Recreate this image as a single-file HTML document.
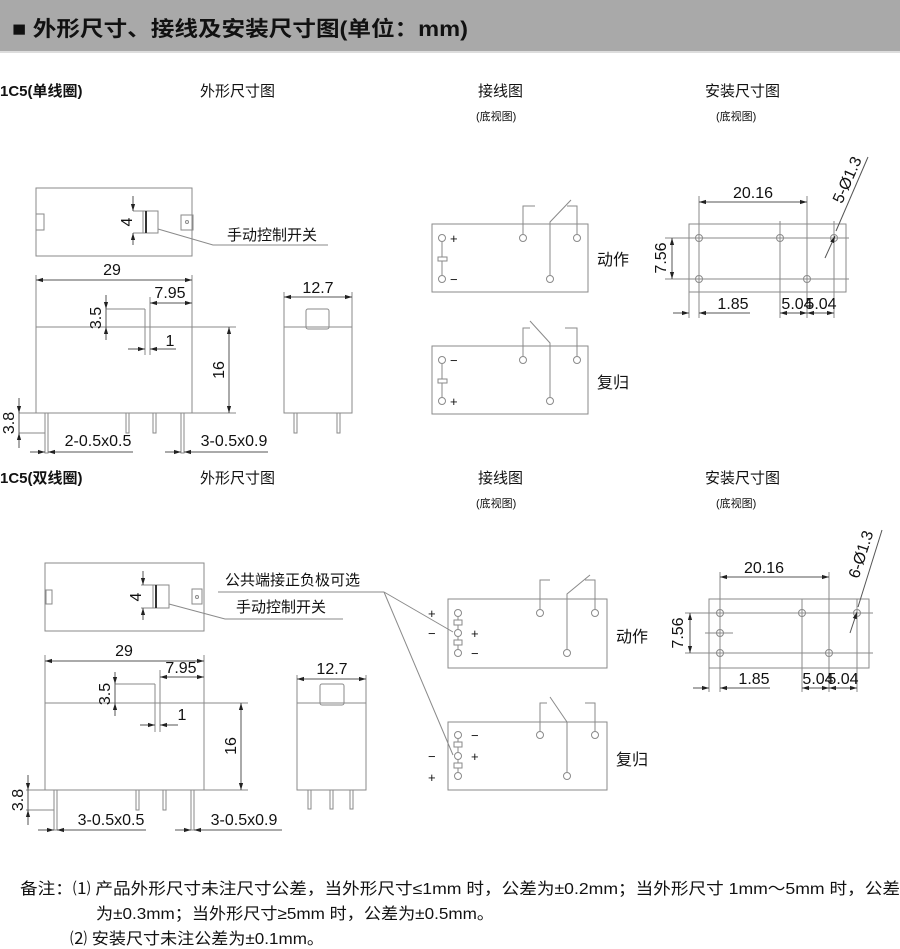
<!DOCTYPE html>
<html><head><meta charset="utf-8"><style>
html,body{margin:0;padding:0;background:#fff;width:900px;height:949px;overflow:hidden}
svg{display:block}
text{font-family:"Liberation Sans Narrow","Liberation Sans","Noto Sans CJK SC",sans-serif;fill:#111}
.c{font-family:"Liberation Sans","Noto Sans CJK SC",sans-serif}
.d{font-size:16px}
.l{stroke:#8a8a8a;stroke-width:1;fill:none}
.k{stroke:#555;stroke-width:1;fill:none}
</style></head><body>
<svg width="900" height="949" viewBox="0 0 900 949" xmlns="http://www.w3.org/2000/svg">
<defs>
<marker id="a" viewBox="0 0 10 10" refX="10" refY="5" markerWidth="7" markerHeight="7" orient="auto-start-reverse"><path d="M0,2 L10,5 L0,8z" fill="#222"/></marker>
</defs>
<rect x="0" y="0" width="900" height="51" fill="#a9a9a9"/>
<rect x="0" y="51" width="900" height="2" fill="#ddd"/>
<text x="12" y="36" class="c" style="font-size:21px;font-weight:bold" textLength="456" lengthAdjust="spacingAndGlyphs">■ 外形尺寸、接线及安装尺寸图(单位：mm)</text>

<!-- section titles -->
<g class="c" style="font-size:15px">
<text x="0" y="96" style="font-weight:bold">1C5(单线圈)</text>
<text x="200" y="96">外形尺寸图</text>
<text x="478" y="96">接线图</text>
<text x="476" y="120" style="font-size:11px">(底视图)</text>
<text x="705" y="96">安装尺寸图</text>
<text x="716" y="120" style="font-size:11px">(底视图)</text>
<text x="0" y="483" style="font-weight:bold">1C5(双线圈)</text>
<text x="200" y="483">外形尺寸图</text>
<text x="478" y="483">接线图</text>
<text x="476" y="507" style="font-size:11px">(底视图)</text>
<text x="705" y="483">安装尺寸图</text>
<text x="716" y="507" style="font-size:11px">(底视图)</text>
</g>

<!-- ===== Section 1 outline ===== -->
<g class="l">
<rect x="36" y="188" width="156" height="68"/>
<rect x="36" y="214" width="8" height="16"/>
<rect x="181" y="215" width="12" height="15"/>
<circle cx="187" cy="222" r="1.5"/>
<rect x="143" y="211" width="15" height="22"/>
<line x1="146" y1="211" x2="146" y2="233" stroke="#333" stroke-width="2"/>
<line x1="133" y1="211" x2="143" y2="211"/><line x1="133" y1="233" x2="143" y2="233"/>
<polyline points="158,229 213,245 328,245"/>
<rect x="36" y="327" width="156" height="86"/>
<line x1="36" y1="327" x2="236" y2="327"/>
<line x1="192" y1="413" x2="236" y2="413"/>
<line x1="36" y1="275" x2="36" y2="327"/><line x1="192" y1="275" x2="192" y2="327"/>
<line x1="150" y1="297" x2="150" y2="355"/><line x1="145" y1="309" x2="145" y2="355"/>
<line x1="106" y1="309" x2="145" y2="309"/>
<rect x="45" y="413" width="3" height="40"/>
<rect x="126" y="413" width="3" height="20"/><rect x="153" y="413" width="3" height="20"/><rect x="181" y="413" width="3" height="40"/>
<line x1="19" y1="413" x2="45" y2="413"/><line x1="19" y1="433" x2="45" y2="433"/>
<rect x="284" y="327" width="68" height="86"/>
<rect x="306" y="309" width="23" height="20" rx="2"/>
<line x1="284" y1="292" x2="284" y2="327"/><line x1="352" y1="292" x2="352" y2="327"/>
<rect x="294" y="413" width="3" height="20"/><rect x="337" y="413" width="3" height="20"/>
</g>
<g class="k">
<line x1="133" y1="196" x2="133" y2="211" marker-end="url(#a)"/><line x1="133" y1="245" x2="133" y2="233" marker-end="url(#a)"/>
<line x1="36" y1="280" x2="192" y2="280" marker-start="url(#a)" marker-end="url(#a)"/>
<line x1="150" y1="303" x2="192" y2="303" marker-start="url(#a)" marker-end="url(#a)"/>
<line x1="106" y1="295" x2="106" y2="309" marker-end="url(#a)"/><line x1="106" y1="340" x2="106" y2="327" marker-end="url(#a)"/><line x1="106" y1="309" x2="106" y2="327"/>
<line x1="128" y1="349" x2="145" y2="349" marker-end="url(#a)"/><line x1="176" y1="349" x2="150" y2="349" marker-end="url(#a)"/>
<line x1="229" y1="327" x2="229" y2="413" marker-start="url(#a)" marker-end="url(#a)"/>
<line x1="19" y1="398" x2="19" y2="413" marker-end="url(#a)"/><line x1="19" y1="448" x2="19" y2="433" marker-end="url(#a)"/><line x1="19" y1="413" x2="19" y2="433"/>
<line x1="30" y1="452" x2="45" y2="452" marker-end="url(#a)"/><line x1="133" y1="452" x2="48" y2="452" marker-end="url(#a)"/>
<line x1="165" y1="452" x2="181" y2="452" marker-end="url(#a)"/><line x1="268" y1="452" x2="184" y2="452" marker-end="url(#a)"/>
<line x1="284" y1="297" x2="352" y2="297" marker-start="url(#a)" marker-end="url(#a)"/>
</g>
<g class="d">
<text x="132" y="222" transform="rotate(-90 132 222)" text-anchor="middle">4</text>
<text x="112" y="275" text-anchor="middle">29</text>
<text x="170" y="298" text-anchor="middle">7.95</text>
<text x="101" y="318" transform="rotate(-90 101 318)" text-anchor="middle">3.5</text>
<text x="170" y="346" text-anchor="middle">1</text>
<text x="224" y="370" transform="rotate(-90 224 370)" text-anchor="middle">16</text>
<text x="14" y="423" transform="rotate(-90 14 423)" text-anchor="middle">3.8</text>
<text x="98" y="446" text-anchor="middle">2-0.5x0.5</text>
<text x="234" y="446" text-anchor="middle">3-0.5x0.9</text>
<text x="318" y="293" text-anchor="middle">12.7</text>
</g>
<text x="227" y="240" class="c" style="font-size:15px">手动控制开关</text>

<!-- wiring 1 -->
<g class="l">
<rect x="432" y="224" width="156" height="68"/>
<circle cx="442" cy="238" r="3.5"/><circle cx="442" cy="279" r="3.5"/>
<line x1="442" y1="242" x2="442" y2="257"/><rect x="438" y="257" width="9" height="4"/><line x1="442" y1="261" x2="442" y2="275"/>
<circle cx="523" cy="238" r="3.5"/><circle cx="577" cy="238" r="3.5"/><circle cx="550" cy="279" r="3.5"/>
<polyline points="523,234 523,206 535,206"/><polyline points="577,234 577,206 567,206"/>
<polyline points="550,275 550,222 571,200"/>
<rect x="432" y="346" width="156" height="68"/>
<circle cx="442" cy="360" r="3.5"/><circle cx="442" cy="401" r="3.5"/>
<line x1="442" y1="364" x2="442" y2="379"/><rect x="438" y="379" width="9" height="4"/><line x1="442" y1="383" x2="442" y2="397"/>
<circle cx="523" cy="360" r="3.5"/><circle cx="577" cy="360" r="3.5"/><circle cx="550" cy="401" r="3.5"/>
<polyline points="523,356 523,328 530,328"/><polyline points="577,356 577,328 565,328"/>
<polyline points="550,397 550,343 530,321"/>
</g>
<g class="c" style="font-size:13px">
<text x="450" y="243">+</text><text x="450" y="284">−</text>
<text x="450" y="365">−</text><text x="450" y="406">+</text>
</g>
<text x="597" y="265" class="c" style="font-size:16px">动作</text>
<text x="597" y="388" class="c" style="font-size:16px">复归</text>

<!-- mount 1 -->
<g class="l">
<rect x="689" y="224" width="157" height="68"/>
<line x1="685" y1="238" x2="849" y2="238"/><line x1="685" y1="279" x2="849" y2="279"/>
<line x1="699" y1="196" x2="699" y2="318"/><line x1="807" y1="196" x2="807" y2="318"/>
<line x1="780" y1="221" x2="780" y2="318"/><line x1="834" y1="221" x2="834" y2="318"/>
<line x1="689" y1="292" x2="689" y2="318"/>
<line x1="665" y1="238" x2="689" y2="238"/><line x1="665" y1="279" x2="689" y2="279"/>
<circle cx="699" cy="238" r="3.5"/><circle cx="780" cy="238" r="3.5"/><circle cx="834" cy="238" r="3.5"/>
<circle cx="699" cy="279" r="3.5"/><circle cx="807" cy="279" r="3.5"/>
</g>
<g class="k">
<line x1="699" y1="202" x2="807" y2="202" marker-start="url(#a)" marker-end="url(#a)"/>
<line x1="672" y1="238" x2="672" y2="279" marker-start="url(#a)" marker-end="url(#a)"/>
<line x1="673" y1="313" x2="689" y2="313" marker-end="url(#a)"/><line x1="750" y1="313" x2="699" y2="313" marker-end="url(#a)"/>
<line x1="780" y1="313" x2="807" y2="313" marker-start="url(#a)" marker-end="url(#a)"/>
<line x1="807" y1="313" x2="834" y2="313" marker-start="url(#a)" marker-end="url(#a)"/>
<line x1="825" y1="258" x2="835" y2="236" marker-end="url(#a)"/><line x1="868" y1="157" x2="836" y2="231"/>
</g>
<g class="d">
<text x="753" y="198" text-anchor="middle">20.16</text>
<text x="666" y="258" transform="rotate(-90 666 258)" text-anchor="middle">7.56</text>
<text x="733" y="309" text-anchor="middle">1.85</text>
<text x="797" y="309" text-anchor="middle">5.04</text>
<text x="821" y="309" text-anchor="middle">5.04</text>
<text x="852" y="182" transform="rotate(-66 852 182)" text-anchor="middle">5-Ø1.3</text>
</g>

<!-- ===== Section 2 ===== -->
<g class="l">
<rect x="45" y="563" width="159" height="68"/>
<rect x="46" y="590" width="6" height="14"/>
<rect x="192" y="589" width="10" height="15"/><circle cx="197" cy="597" r="1.5"/>
<rect x="153" y="585" width="16" height="23"/>
<line x1="156" y1="585" x2="156" y2="608" stroke="#333" stroke-width="2"/>
<line x1="141" y1="585" x2="153" y2="585"/><line x1="141" y1="608" x2="153" y2="608"/>
<polyline points="169,604 225,619 343,619"/>
<line x1="218" y1="592" x2="384" y2="592"/>
<line x1="384" y1="592" x2="453" y2="632"/><line x1="384" y1="592" x2="453" y2="755"/>
<rect x="45" y="703" width="159" height="87"/>
<line x1="45" y1="703" x2="248" y2="703"/><line x1="204" y1="790" x2="248" y2="790"/>
<line x1="45" y1="655" x2="45" y2="703"/><line x1="204" y1="655" x2="204" y2="703"/>
<line x1="160" y1="670" x2="160" y2="732"/><line x1="155" y1="684" x2="155" y2="732"/>
<line x1="115" y1="684" x2="155" y2="684"/>
<rect x="54" y="790" width="3" height="40"/>
<rect x="136" y="790" width="3" height="20"/><rect x="163" y="790" width="3" height="20"/><rect x="191" y="790" width="3" height="40"/>
<line x1="26" y1="790" x2="54" y2="790"/><line x1="26" y1="810" x2="54" y2="810"/>
<rect x="297" y="703" width="69" height="87"/>
<rect x="320" y="684" width="24" height="21" rx="2"/>
<line x1="297" y1="675" x2="297" y2="703"/><line x1="366" y1="675" x2="366" y2="703"/>
<rect x="308" y="790" width="3" height="19"/><rect x="330" y="790" width="3" height="19"/><rect x="350" y="790" width="3" height="19"/>
</g>
<g class="k">
<line x1="143" y1="571" x2="143" y2="585" marker-end="url(#a)"/><line x1="143" y1="620" x2="143" y2="608" marker-end="url(#a)"/>
<line x1="45" y1="661" x2="204" y2="661" marker-start="url(#a)" marker-end="url(#a)"/>
<line x1="160" y1="677" x2="204" y2="677" marker-start="url(#a)" marker-end="url(#a)"/>
<line x1="115" y1="672" x2="115" y2="684" marker-end="url(#a)"/><line x1="115" y1="716" x2="115" y2="703" marker-end="url(#a)"/><line x1="115" y1="684" x2="115" y2="703"/>
<line x1="140" y1="725" x2="155" y2="725" marker-end="url(#a)"/><line x1="178" y1="725" x2="160" y2="725" marker-end="url(#a)"/>
<line x1="241" y1="703" x2="241" y2="790" marker-start="url(#a)" marker-end="url(#a)"/>
<line x1="28" y1="775" x2="28" y2="790" marker-end="url(#a)"/><line x1="28" y1="825" x2="28" y2="810" marker-end="url(#a)"/><line x1="28" y1="790" x2="28" y2="810"/>
<line x1="38" y1="830" x2="54" y2="830" marker-end="url(#a)"/><line x1="146" y1="830" x2="57" y2="830" marker-end="url(#a)"/>
<line x1="175" y1="830" x2="191" y2="830" marker-end="url(#a)"/><line x1="282" y1="830" x2="194" y2="830" marker-end="url(#a)"/>
<line x1="297" y1="679" x2="366" y2="679" marker-start="url(#a)" marker-end="url(#a)"/>
</g>
<g class="d">
<text x="141" y="597" transform="rotate(-90 141 597)" text-anchor="middle">4</text>
<text x="124" y="656" text-anchor="middle">29</text>
<text x="181" y="673" text-anchor="middle">7.95</text>
<text x="110" y="694" transform="rotate(-90 110 694)" text-anchor="middle">3.5</text>
<text x="182" y="720" text-anchor="middle">1</text>
<text x="236" y="746" transform="rotate(-90 236 746)" text-anchor="middle">16</text>
<text x="23" y="800" transform="rotate(-90 23 800)" text-anchor="middle">3.8</text>
<text x="111" y="825" text-anchor="middle">3-0.5x0.5</text>
<text x="244" y="825" text-anchor="middle">3-0.5x0.9</text>
<text x="332" y="674" text-anchor="middle">12.7</text>
</g>
<text x="225" y="585" class="c" style="font-size:15px">公共端接正负极可选</text>
<text x="236" y="612" class="c" style="font-size:15px">手动控制开关</text>

<!-- wiring 2 -->
<g class="l">
<rect x="448" y="599" width="159" height="69"/>
<circle cx="458" cy="613" r="3.5"/><circle cx="458" cy="633" r="3.5"/><circle cx="458" cy="653" r="3.5"/>
<line x1="458" y1="617" x2="458" y2="620"/><rect x="454" y="620" width="8" height="5"/><line x1="458" y1="625" x2="458" y2="629"/>
<line x1="458" y1="637" x2="458" y2="640"/><rect x="454" y="640" width="8" height="5"/><line x1="458" y1="645" x2="458" y2="649"/>
<circle cx="540" cy="613" r="3.5"/><circle cx="595" cy="613" r="3.5"/><circle cx="567" cy="653" r="3.5"/>
<polyline points="540,609 540,580 550,580"/><polyline points="595,609 595,580 585,580"/>
<polyline points="567,649 567,594 590,575"/>
<rect x="448" y="722" width="159" height="68"/>
<circle cx="458" cy="735" r="3.5"/><circle cx="458" cy="756" r="3.5"/><circle cx="458" cy="776" r="3.5"/>
<line x1="458" y1="739" x2="458" y2="742"/><rect x="454" y="742" width="8" height="5"/><line x1="458" y1="747" x2="458" y2="752"/>
<line x1="458" y1="760" x2="458" y2="763"/><rect x="454" y="763" width="8" height="5"/><line x1="458" y1="768" x2="458" y2="772"/>
<circle cx="540" cy="735" r="3.5"/><circle cx="595" cy="735" r="3.5"/><circle cx="567" cy="776" r="3.5"/>
<polyline points="540,731 540,703 547,703"/><polyline points="595,731 595,703 585,703"/>
<polyline points="567,772 567,722 550,697"/>
</g>
<g class="c" style="font-size:13px">
<text x="428" y="618">+</text><text x="428" y="638">−</text><text x="471" y="638">+</text><text x="471" y="658">−</text>
<text x="471" y="740">−</text><text x="428" y="761">−</text><text x="471" y="761">+</text><text x="428" y="782">+</text>
</g>
<text x="616" y="642" class="c" style="font-size:16px">动作</text>
<text x="616" y="765" class="c" style="font-size:16px">复归</text>

<!-- mount 2 -->
<g class="l">
<rect x="709" y="599" width="160" height="69"/>
<line x1="700" y1="613" x2="873" y2="613"/><line x1="700" y1="653" x2="873" y2="653"/><line x1="705" y1="633" x2="733" y2="633"/>
<line x1="720" y1="572" x2="720" y2="692"/><line x1="829" y1="572" x2="829" y2="692"/>
<line x1="802" y1="599" x2="802" y2="692"/><line x1="857" y1="599" x2="857" y2="692"/>
<line x1="709" y1="668" x2="709" y2="692"/>
<line x1="685" y1="613" x2="709" y2="613"/><line x1="685" y1="653" x2="709" y2="653"/>
<circle cx="720" cy="613" r="3.5"/><circle cx="802" cy="613" r="3.5"/><circle cx="857" cy="613" r="3.5"/>
<circle cx="720" cy="633" r="3.5"/><circle cx="720" cy="653" r="3.5"/><circle cx="829" cy="653" r="3.5"/>
</g>
<g class="k">
<line x1="720" y1="577" x2="829" y2="577" marker-start="url(#a)" marker-end="url(#a)"/>
<line x1="690" y1="613" x2="690" y2="653" marker-start="url(#a)" marker-end="url(#a)"/>
<line x1="693" y1="688" x2="709" y2="688" marker-end="url(#a)"/><line x1="770" y1="688" x2="720" y2="688" marker-end="url(#a)"/>
<line x1="802" y1="688" x2="829" y2="688" marker-start="url(#a)" marker-end="url(#a)"/>
<line x1="829" y1="688" x2="857" y2="688" marker-start="url(#a)" marker-end="url(#a)"/>
<line x1="850" y1="633" x2="857" y2="612" marker-end="url(#a)"/><line x1="882" y1="530" x2="858" y2="607"/>
</g>
<g class="d">
<text x="764" y="573" text-anchor="middle">20.16</text>
<text x="683" y="633" transform="rotate(-90 683 633)" text-anchor="middle">7.56</text>
<text x="754" y="684" text-anchor="middle">1.85</text>
<text x="818" y="684" text-anchor="middle">5.04</text>
<text x="843" y="684" text-anchor="middle">5.04</text>
<text x="866" y="556" transform="rotate(-72 866 556)" text-anchor="middle">6-Ø1.3</text>
</g>

<!-- notes -->
<g class="c" style="font-size:16px">
<text x="20" y="894" textLength="880" lengthAdjust="spacingAndGlyphs">备注：⑴ 产品外形尺寸未注尺寸公差，当外形尺寸≤1mm 时，公差为±0.2mm；当外形尺寸 1mm～5mm 时，公差</text>
<text x="96" y="919" textLength="398" lengthAdjust="spacingAndGlyphs">为±0.3mm；当外形尺寸≥5mm 时，公差为±0.5mm。</text>
<text x="70" y="944" textLength="254" lengthAdjust="spacingAndGlyphs">⑵ 安装尺寸未注公差为±0.1mm。</text>
</g>
</svg>
</body></html>
